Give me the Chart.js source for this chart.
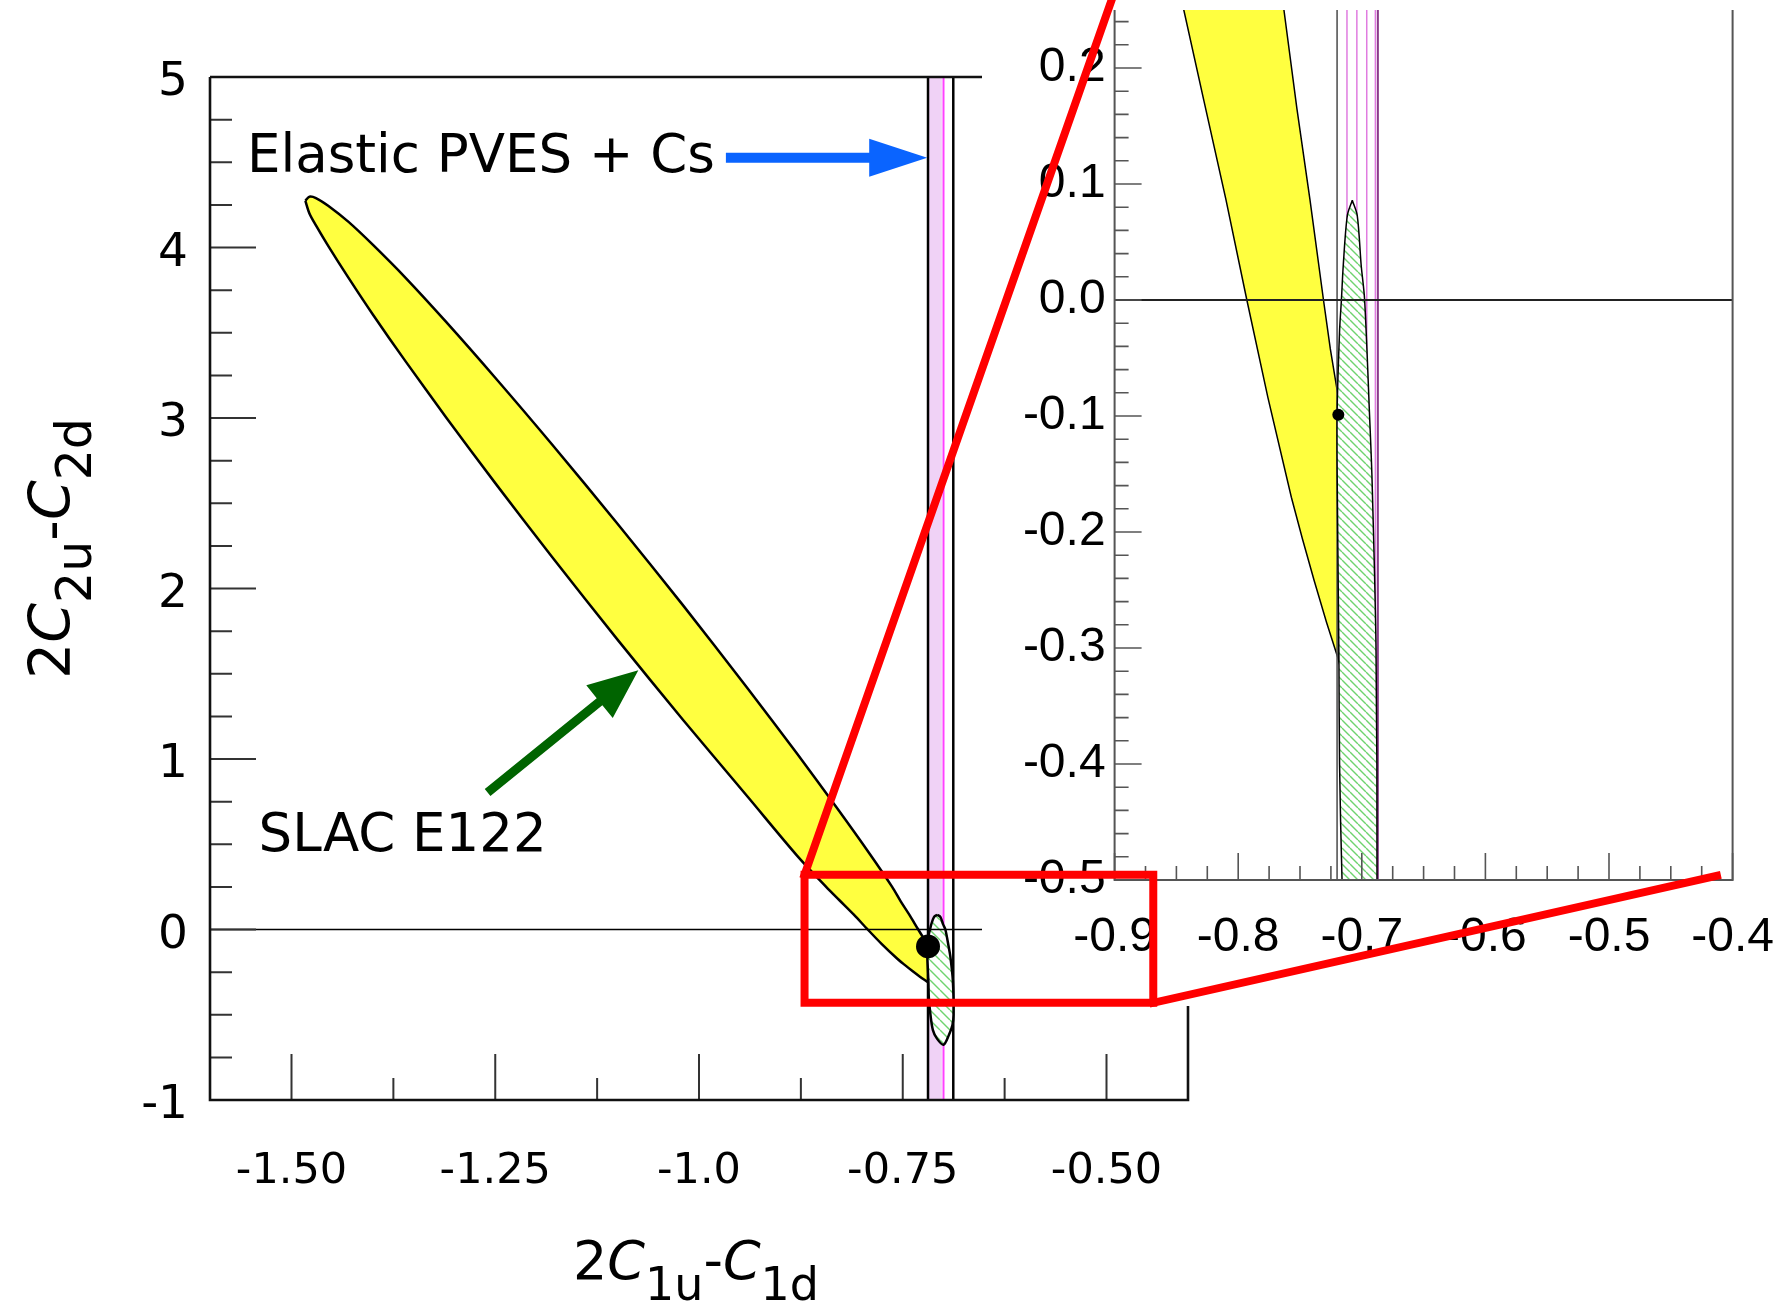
<!DOCTYPE html>
<html>
<head>
<meta charset="utf-8">
<script src="https://cdn.jsdelivr.net/npm/chart.js@4.4.1/dist/chart.umd.min.js"></script>
<style>
  html, body { margin: 0; padding: 0; background: #fff; }
  #stage { position: relative; width: 1778px; height: 1304px; overflow: hidden; background: #fff; }
  #stage canvas { position: absolute; }
  #mainCanvas { left: 0; top: 0; background: #fff; }
  #insetCanvas { left: 982px; top: 0; background: #fff; }
  #overlayCanvas { left: 0; top: 0; pointer-events: none; }
</style>
</head>
<body>
<div id="stage">
  <canvas id="mainCanvas" width="1778" height="1304"></canvas>
  <canvas id="insetCanvas" width="796" height="1006"></canvas>
  <canvas id="overlayCanvas" width="1778" height="1304"></canvas>
</div>
<script>
// ---- data (2C1u-C1d on x, 2C2u-C2d on y) ----

// SLAC E122 contour, traced clockwise from the upper tip (cut at the PVES band)
const e122X = [-1.483, -1.478, -1.470, -1.455, -1.430, -1.400, -1.360, -1.310, -1.250, -1.180,
               -1.100, -1.020, -0.940, -0.880, -0.830, -0.790, -0.763, -0.7525, -0.742, -0.731,
               -0.7255, -0.719, -0.719,
               -0.7195, -0.7285, -0.7385, -0.748, -0.757, -0.776, -0.793, -0.810, -0.828, -0.844,
               -0.880, -0.940, -1.020, -1.100, -1.180, -1.250, -1.310, -1.360, -1.400, -1.430,
               -1.455, -1.470, -1.478, -1.483];
const e122Y = [4.274, 4.298, 4.290, 4.245, 4.150, 4.015, 3.822, 3.562, 3.236, 2.843,
               2.380, 1.904, 1.412, 1.033, 0.708, 0.440, 0.250, 0.165, 0.087, 0.000,
               -0.042, -0.084, -0.310,
               -0.308, -0.278, -0.242, -0.206, -0.170, -0.084, 0.000, 0.087, 0.173, 0.250,
               0.435, 0.777, 1.232, 1.700, 2.183, 2.618, 3.002, 3.332, 3.606, 3.822,
               4.010, 4.130, 4.200, 4.274];

// hatched ellipse (elastic PVES + Cs combined), clockwise from its top
const comboX = [-0.7077, -0.7037, -0.7005, -0.6977, -0.6937, -0.6917, -0.6885, -0.6877, -0.6890, -0.6935,
                -0.7000, -0.7080, -0.7130, -0.7160, -0.7180, -0.7185, -0.7195, -0.7200, -0.7180, -0.7165,
                -0.7150, -0.7117, -0.7077];
const comboY = [0.086, 0.073, 0.030, 0.000, -0.100, -0.155, -0.300, -0.500, -0.560, -0.620,
                -0.676, -0.640, -0.590, -0.500, -0.400, -0.310, -0.200, -0.100, -0.027, 0.000,
                0.030, 0.073, 0.086];

// standard model point
const smX = [-0.719];
const smY = [-0.099];

// PVES + Cs band
const bandEdges = [-0.719, -0.688];
const bandShadeEdges = [-0.719, -0.702];
const bandCentre = [-0.700];
const insetBandEdge = [-0.720];
const insetBandPink = [-0.712, -0.704, -0.696, -0.689];
const insetBandOuter = [-0.687];

// axes
const mainXRange = [-1.6, -0.4];
const mainYRange = [-1, 5];
const mainXTicks = [-1.5, -1.25, -1.0, -0.75, -0.5];
const mainXTickLabels = ['-1.50', '-1.25', '-1.0', '-0.75', '-0.50'];
const mainXMinor = [-1.375, -1.125, -0.875, -0.625];
const mainYTicks = [-1, 0, 1, 2, 3, 4, 5];
const mainYTickLabels = ['-1', '0', '1', '2', '3', '4', '5'];
const mainYMinor = [-0.75, -0.5, -0.25, 0.25, 0.5, 0.75, 1.25, 1.5, 1.75, 2.25, 2.5, 2.75,
                    3.25, 3.5, 3.75, 4.25, 4.5, 4.75];

const insetXRange = [-0.9, -0.4];
const insetYRange = [-0.5, 0.25];
const insetXTicks = [-0.9, -0.8, -0.7, -0.6, -0.5, -0.4];
const insetXTickLabels = ['-0.9', '-0.8', '-0.7', '-0.6', '-0.5', '-0.4'];
const insetXMinor = [-0.875, -0.85, -0.825, -0.775, -0.75, -0.725, -0.675, -0.65, -0.625,
                     -0.575, -0.55, -0.525, -0.475, -0.45, -0.425];
const insetYTicks = [-0.5, -0.4, -0.3, -0.2, -0.1, 0, 0.1, 0.2];
const insetYTickLabels = ['-0.5', '-0.4', '-0.3', '-0.2', '-0.1', '0.0', '0.1', '0.2'];
const insetYMinor = [0.24, 0.22, 0.18, 0.16, 0.14, 0.12, 0.08, 0.06, 0.04, 0.02,
                     -0.02, -0.04, -0.06, -0.08, -0.12, -0.14, -0.16, -0.18, -0.22, -0.24,
                     -0.26, -0.28, -0.32, -0.34, -0.36, -0.38, -0.42, -0.44, -0.46, -0.48];

// zoom box and its connector lines (main chart units)
const zoomBoxX = [-0.8705, -0.4426, -0.4426, -0.8705, -0.8705];
const zoomBoxY = [0.321, 0.321, -0.430, -0.430, 0.321];
const zoomUpX = [-0.8705, -0.4932];
const zoomUpY = [0.321, 5.459];
const zoomDownX = [-0.4426, 0.249];
const zoomDownY = [-0.430, 0.315];

// text notes and arrows (main chart units)
const noteLabels = [
  { text: 'Elastic PVES + Cs', x: -1.5546, y: 4.444 },
  { text: 'SLAC E122', x: -1.5405, y: 0.462 }
];
const noteArrows = [
  { x1: -0.967, y1: 4.526, x2: -0.720, y2: 4.526, color: '#0a64ff', shaft: 10, head: 58, headW: 38 },
  { x1: -1.2594, y1: 0.804, x2: -1.0744, y2: 1.521, color: '#006400', shaft: 9, head: 50, headW: 42 }
];

// ---- helpers ----
const pts = (xs, ys) => xs.map((x, i) => ({ x, y: ys[i] }));
const vline = (x, yr) => [{ x, y: yr[0] }, { x, y: yr[1] }];

function makeHatch(step) {
  const c = document.createElement('canvas');
  c.width = step; c.height = step;
  const g = c.getContext('2d');
  g.fillStyle = '#fff';
  g.fillRect(0, 0, step, step);
  g.strokeStyle = '#6fd36f';
  g.lineWidth = 1.4;
  g.beginPath();
  for (const k of [-step, 0, step]) { g.moveTo(k, 0); g.lineTo(k + step, step); }
  g.stroke();
  return g.createPattern(c, 'repeat');
}

function drawArrow(ctx, x1, y1, x2, y2, color, shaft, head, headW) {
  const ang = Math.atan2(y2 - y1, x2 - x1);
  const len = Math.hypot(x2 - x1, y2 - y1);
  ctx.save();
  ctx.translate(x1, y1);
  ctx.rotate(ang);
  ctx.fillStyle = color;
  ctx.beginPath();
  ctx.moveTo(0, -shaft / 2);
  ctx.lineTo(len - head, -shaft / 2);
  ctx.lineTo(len - head, -headW / 2);
  ctx.lineTo(len, 0);
  ctx.lineTo(len - head, headW / 2);
  ctx.lineTo(len - head, shaft / 2);
  ctx.lineTo(0, shaft / 2);
  ctx.closePath();
  ctx.fill();
  ctx.restore();
}

function drawRuns(ctx, runs, cx, baseline, big, small, drop) {
  const fontOf = r => `${r.italic ? 'oblique ' : ''}${r.sub ? small : big}px "DejaVu Sans"`;
  let total = 0;
  runs.forEach(r => { ctx.font = fontOf(r); r.w = ctx.measureText(r.t).width; total += r.w; });
  let x = cx - total / 2;
  runs.forEach(r => {
    ctx.font = fontOf(r);
    ctx.fillText(r.t, x, baseline + (r.sub ? drop : 0));
    x += r.w;
  });
}

// ticks pointing inward + frame
const frameTicks = {
  id: 'frameTicks',
  afterDatasetsDraw(chart, args, o) {
    const { ctx, chartArea: a, scales: { x, y } } = chart;
    ctx.save();
    ctx.strokeStyle = o.tickColor;
    ctx.lineWidth = o.tickWidth;
    ctx.beginPath();
    const xt = (v, len) => { const p = x.getPixelForValue(v); ctx.moveTo(p, a.bottom); ctx.lineTo(p, a.bottom - len); };
    const yt = (v, len) => { const p = y.getPixelForValue(v); ctx.moveTo(a.left, p); ctx.lineTo(a.left + len, p); };
    x.ticks.forEach(t => xt(t.value, o.major));
    o.xMinor.forEach(v => xt(v, o.minor));
    y.ticks.forEach(t => yt(t.value, o.major));
    o.yMinor.forEach(v => yt(v, o.minor));
    ctx.stroke();
    ctx.strokeStyle = o.frameColor;
    ctx.lineWidth = o.frameWidth;
    ctx.beginPath();
    if (o.top) { ctx.moveTo(a.left, a.top); ctx.lineTo(a.right, a.top); }
    ctx.moveTo(a.right, a.top); ctx.lineTo(a.right, a.bottom);
    ctx.lineTo(a.left, a.bottom); ctx.lineTo(a.left, a.top);
    ctx.stroke();
    ctx.restore();
  }
};

// axis titles with subscripts, notes and arrows on the main chart
const mainDecor = {
  id: 'mainDecor',
  afterDraw(chart) {
    const { ctx, chartArea: a, scales: { x, y } } = chart;
    ctx.save();
    ctx.fillStyle = '#000';
    ctx.textBaseline = 'alphabetic';
    drawRuns(ctx, [{ t: '2' }, { t: 'C', italic: true }, { t: '1u', sub: true }, { t: '-' },
                   { t: 'C', italic: true }, { t: '1d', sub: true }],
             (a.left + a.right) / 2 - 3, a.bottom + 179, 54, 46, 21);
    ctx.save();
    ctx.translate(a.left - 140, (a.top + a.bottom) / 2 - 40);
    ctx.rotate(-Math.PI / 2);
    drawRuns(ctx, [{ t: '2' }, { t: 'C', italic: true }, { t: '2u', sub: true }, { t: '-' },
                   { t: 'C', italic: true }, { t: '2d', sub: true }],
             0, 0, 57, 49, 21);
    ctx.restore();
    ctx.font = '53px "DejaVu Sans"';
    ctx.textAlign = 'left';
    noteLabels.forEach(n => ctx.fillText(n.text, x.getPixelForValue(n.x), y.getPixelForValue(n.y)));
    noteArrows.forEach(r => drawArrow(ctx, x.getPixelForValue(r.x1), y.getPixelForValue(r.y1),
      x.getPixelForValue(r.x2), y.getPixelForValue(r.y2), r.color, r.shaft, r.head, r.headW));
    ctx.restore();
  }
};

function scaleOpts(range, ticks, labels, font, padding, size, labelOffset) {
  return {
    type: 'linear',
    min: range[0],
    max: range[1],
    grid: { display: false, drawTicks: false },
    border: { display: false },
    afterBuildTicks: s => { s.ticks = ticks.map(v => ({ value: v })); },
    afterFit: s => {
      if (s.isHorizontal()) s.height = size; else s.width = size;
      s.paddingTop = 0; s.paddingBottom = 0; s.paddingLeft = 0; s.paddingRight = 0;
    },
    ticks: {
      autoSkip: false,
      maxRotation: 0,
      color: '#000',
      font,
      padding,
      labelOffset: labelOffset || 0,
      callback: (v, i) => labels[i]
    }
  };
}

const line = (data, color, width, order, extra) => Object.assign({
  data, borderColor: color, borderWidth: width, pointRadius: 0, fill: false, tension: 0, order
}, extra || {});

// ---- main chart ----
const mainHatch = makeHatch(10);
new Chart(document.getElementById('mainCanvas'), {
  type: 'line',
  data: {
    datasets: [
      line(pts(smX, smY), '#000', 0, 0, { showLine: false, pointRadius: 12, pointBackgroundColor: '#000' }),
      line([{ x: mainXRange[0], y: 0 }, { x: mainXRange[1], y: 0 }], '#000', 1.6, 1),
      line(pts(comboX, comboY), '#000', 2.5, 2, { fill: 'shape', backgroundColor: mainHatch, tension: 0.3 }),
      line(vline(bandEdges[0], mainYRange), '#000', 2.5, 3),
      line(vline(bandEdges[1], mainYRange), '#000', 2.5, 3),
      line(vline(bandCentre[0], mainYRange), '#ff40ff', 2, 4),
      line([{ x: bandShadeEdges[0], y: mainYRange[0] }, { x: bandShadeEdges[1], y: mainYRange[0] },
            { x: bandShadeEdges[1], y: mainYRange[1] }, { x: bandShadeEdges[0], y: mainYRange[1] }],
           'rgba(0,0,0,0)', 0, 5, { fill: 'shape', backgroundColor: '#f0d2f6' }),
      line(pts(e122X, e122Y), '#000', 2.5, 6, { fill: 'shape', backgroundColor: '#ffff40', tension: 0.3 })
    ]
  },
  options: {
    responsive: false,
    animation: false,
    devicePixelRatio: 1,
    events: [],
    layout: { padding: { left: 0, top: 77, right: 590, bottom: 0 } },
    plugins: {
      legend: { display: false },
      tooltip: { enabled: false },
      frameTicks: { tickColor: '#333', tickWidth: 2, major: 46, minor: 22, xMinor: mainXMinor, yMinor: mainYMinor,
                    frameColor: '#111', frameWidth: 2.6, top: true }
    },
    scales: {
      x: scaleOpts(mainXRange, mainXTicks, mainXTickLabels, { family: 'DejaVu Sans', size: 43 }, 46, 204),
      y: scaleOpts(mainYRange, mainYTicks, mainYTickLabels, { family: 'DejaVu Sans', size: 47 }, 22, 210, 6)
    }
  },
  plugins: [frameTicks, mainDecor]
});

// ---- zoomed inset ----
const insetHatch = makeHatch(8);
const insetSets = [
  line(pts(smX, smY), '#000', 0, 0, { showLine: false, pointRadius: 6, pointBackgroundColor: '#000' }),
  line([{ x: insetXRange[0], y: 0 }, { x: insetXRange[1], y: 0 }], '#222', 2, 1),
  line(pts(comboX, comboY), '#000', 1.5, 2, { fill: 'shape', backgroundColor: insetHatch, tension: 0.3 }),
  line(vline(insetBandEdge[0], insetYRange), '#555', 1.6, 3),
  line(vline(insetBandOuter[0], insetYRange), '#8a3a8a', 2, 3)
];
insetBandPink.forEach(v => insetSets.push(line(vline(v, insetYRange), '#e07ce0', 1.5, 4)));
insetSets.push(line(pts(e122X, e122Y), '#000', 1.5, 6, { fill: 'shape', backgroundColor: '#ffff40' }));

new Chart(document.getElementById('insetCanvas'), {
  type: 'line',
  data: { datasets: insetSets },
  options: {
    responsive: false,
    animation: false,
    devicePixelRatio: 1,
    events: [],
    layout: { padding: { left: 0, top: 10, right: 45.4, bottom: 0 } },
    plugins: {
      legend: { display: false },
      tooltip: { enabled: false },
      frameTicks: { tickColor: '#555', tickWidth: 1.6, major: 27, minor: 14, xMinor: insetXMinor, yMinor: insetYMinor,
                    frameColor: '#555', frameWidth: 2, top: false }
    },
    scales: {
      x: scaleOpts(insetXRange, insetXTicks, insetXTickLabels, { family: 'Liberation Sans', size: 48 }, 29, 126),
      y: scaleOpts(insetYRange, insetYTicks, insetYTickLabels, { family: 'Liberation Sans', size: 48 }, 9, 132.6)
    }
  },
  plugins: [frameTicks]
});

// ---- red zoom marker, drawn over both ----
const red = (data) => ({ data, borderColor: '#ff0000', borderWidth: 8, pointRadius: 0, fill: false,
                         tension: 0, clip: false, borderCapStyle: 'square' });
new Chart(document.getElementById('overlayCanvas'), {
  type: 'line',
  data: { datasets: [red(pts(zoomBoxX, zoomBoxY)), red(pts(zoomUpX, zoomUpY)), red(pts(zoomDownX, zoomDownY))] },
  options: {
    responsive: false,
    animation: false,
    devicePixelRatio: 1,
    events: [],
    layout: { padding: { left: 210, top: 77, right: 590, bottom: 204 } },
    plugins: { legend: { display: false }, tooltip: { enabled: false } },
    scales: {
      x: { type: 'linear', display: false, min: mainXRange[0], max: mainXRange[1] },
      y: { type: 'linear', display: false, min: mainYRange[0], max: mainYRange[1] }
    }
  }
});
</script>
</body>
</html>
